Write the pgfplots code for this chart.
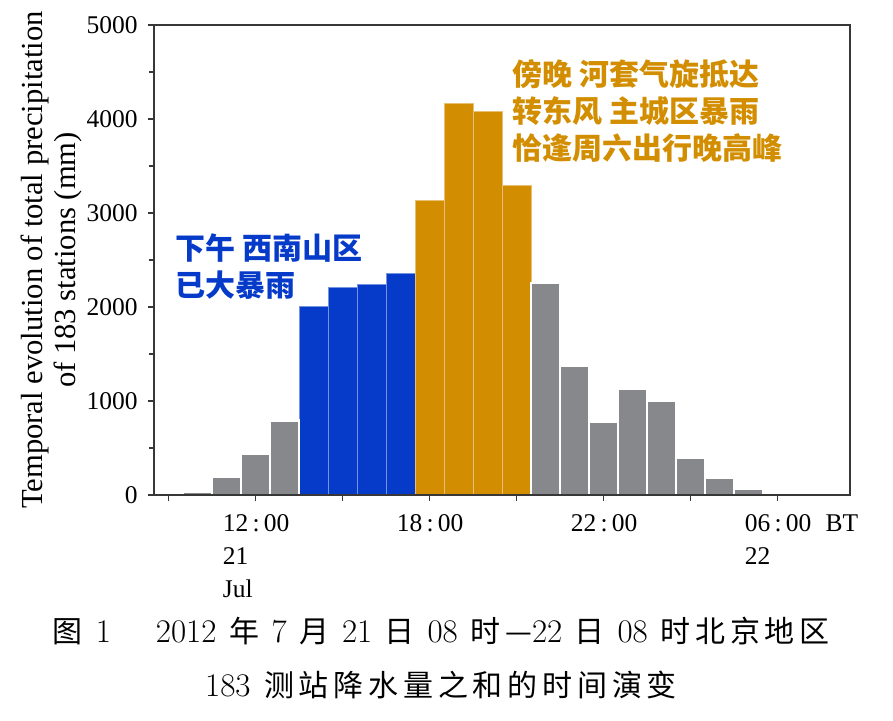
\documentclass[border=0pt]{standalone}
\usepackage{pgfplots}
\pgfplotsset{compat=1.18}
\usepackage{pgfplotstable}
\usepackage{fontspec}
\newfontfamily\tnr{Liberation Serif}
\newfontfamily\cjk{Noto Sans CJK SC}
\newfontfamily\cjkcap{Noto Sans CJK SC}[LetterSpace=16]
\definecolor{barblue}{RGB}{6,58,200}
\definecolor{barorange}{RGB}{210,142,0}
\definecolor{bargray}{RGB}{134,136,140}
\definecolor{axisgray}{RGB}{55,55,55}

\pgfplotstableread{
x y
1 37
2 193
3 437
4 791
13 2254
14 1375
15 777
16 1128
17 1004
18 395
19 183
20 62
21 20
22 20
23 20
}\graydata
\pgfplotstableread{
x y
5 2005
6 2207
7 2243
8 2355
}\bluedata
\pgfplotstableread{
x y
9 3138
10 4168
11 4076
12 3294
}\orangedata

\newcommand{\dg}[1]{{\fontsize{16.5pt}{18pt}\selectfont #1}}
\newcommand{\gp}{\hspace{0.42em}}

\begin{document}
\begin{tikzpicture}
\useasboundingbox (-77pt,-112.5pt) rectangle (369.5pt,247.5pt);
\begin{axis}[
  scale only axis, width=348pt, height=235pt,
  xmin=-0.5, xmax=23.5, ymin=0, ymax=5000,
  axis line style={axisgray, line width=0.75pt},
  tick style={axisgray, line width=0.6pt},
  tick align=outside,
  major tick length=3pt, minor tick length=2.5pt,
  xtick pos=bottom, ytick pos=left,
  xtick={0,3,...,21},
  xticklabels={,{12\,:\,00\\21\\Jul},,{18\,:\,00},,{22\,:\,00},,{06\,:\,00\hspace{0.55em}BT\\22}},
  xticklabel style={font=\tnr\fontsize{12.75pt}{16.5pt}\selectfont, align=left, anchor=north west, inner sep=0pt, xshift=-16.5pt, yshift=-6.5pt},
  ytick={0,1000,...,5000},
  minor ytick={500,1500,...,4500},
  scaled y ticks=false,
  /pgf/number format/1000 sep={},
  /pgf/number format/assume math mode=true,
  yticklabel style={font=\tnr\fontsize{12.75pt}{15pt}\selectfont, anchor=east, inner sep=0pt, xshift=-5pt},
  ylabel={Temporal evolution of total precipitation\\of 183 stations (mm)},
  ylabel style={font=\tnr\fontsize{15.3pt}{16.5pt}\selectfont, align=center, at={(axis description cs:-0.147,0.5)}, anchor=center},
  axis on top,
]
\addplot[ybar, bar width=1, bar shift=0pt, fill=barblue, draw=barblue!55!white, line width=0.5pt] table[x=x,y=y] {\bluedata};
\addplot[ybar, bar width=1, bar shift=0pt, fill=barorange, draw=barorange!55!white, line width=0.5pt] table[x=x,y=y] {\orangedata};
\addplot[ybar, bar width=1, bar shift=0pt, fill=bargray, draw=white, line width=1.2pt] table[x=x,y=y] {\graydata};

\node[anchor=north west, inner sep=0pt, align=left, text=barblue, font=\cjk\bfseries\fontsize{15pt}{18.5pt}\selectfont] at (axis cs:0.22,2780) {下午 西南山区\\已大暴雨};
\node[anchor=north west, inner sep=0pt, align=left, text=barorange, font=\cjk\bfseries\fontsize{15pt}{18.5pt}\selectfont] at (axis cs:11.845,4638) {傍晚 河套气旋抵达\\转东风 主城区暴雨\\恰逢周六出行晚高峰};
\end{axis}
\node[anchor=base, inner sep=0pt, font=\fontsize{15pt}{18pt}\selectfont] at (143.5pt,-73.5pt) {{\cjkcap 图}\hspace{0.45em}\dg{1}\hspace{1.5em}\dg{2012}\gp{\cjkcap 年}\gp\dg{7}\gp{\cjkcap 月}\gp\dg{21}\gp{\cjkcap 日}\gp\dg{08}\gp{\cjkcap 时—}\dg{22}\gp{\cjkcap 日}\gp\dg{08}\gp{\cjkcap 时北京地区}};
\node[anchor=base, inner sep=0pt, font=\fontsize{15pt}{18pt}\selectfont] at (143.5pt,-100.5pt) {\dg{183}\hspace{0.45em}{\cjkcap 测站降水量之和的时间演变}};
\end{tikzpicture}
\end{document}
